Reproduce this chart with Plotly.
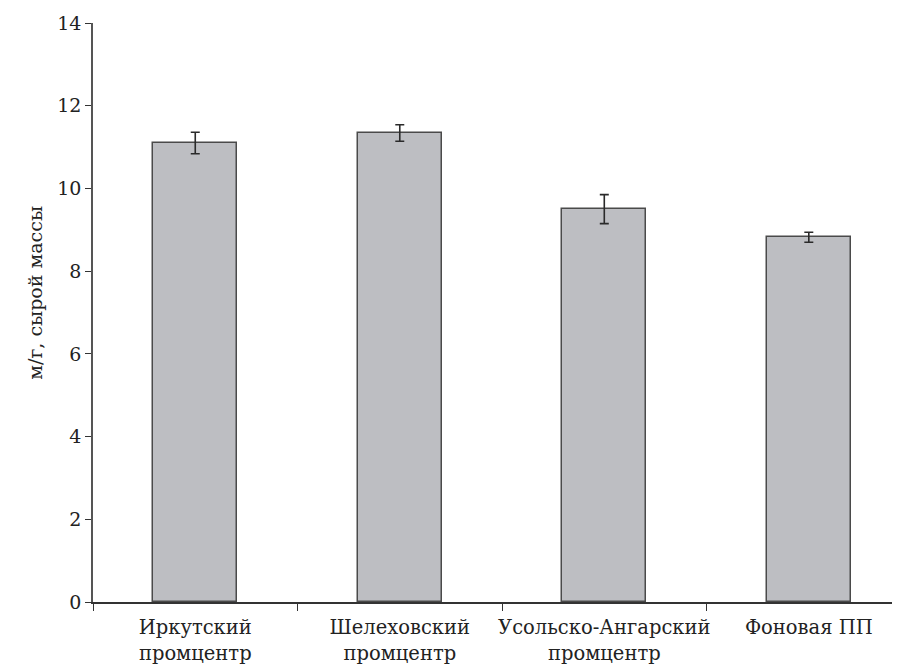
import plotly.graph_objects as go

categories = ["Иркутский<br>промцентр", "Шелеховский<br>промцентр",
              "Усольско-Ангарский<br>промцентр", "Фоновая ПП"]
values = [11.10, 11.34, 9.50, 8.82]
errors = [0.26, 0.20, 0.35, 0.12]
y_ticks = [0, 2, 4, 6, 8, 10, 12, 14]
y_title = "м/г, сырой массы"

FONT = "DejaVu Serif"

fig = go.Figure(go.Bar(
    x=categories, y=values,
    width=0.41,
    marker=dict(color="#bdbec2", line=dict(color="#4a4a4a", width=1.5)),
    error_y=dict(type="data", array=errors, visible=True,
                 color="#2a2a2a", thickness=1.6, width=4.5),
))

fig.update_layout(
    width=900, height=666,
    margin=dict(l=85, r=0, t=15, b=72),
    plot_bgcolor="white", paper_bgcolor="white",
    font=dict(family=FONT, size=18, color="#222"),
    showlegend=False,
    bargap=0,
    annotations=[dict(
        text=y_title, xref="paper", yref="paper", x=-0.0712, y=0.534,
        xanchor="center", yanchor="middle", textangle=-90, showarrow=False,
        font=dict(family=FONT, size=19, color="#222"),
    )],
)
fig.update_xaxes(
    type="category", range=[-0.5, 3.485], automargin=False, tickangle=0,
    tickson="boundaries", ticks="outside", ticklen=7, tickwidth=1.3, tickcolor="#333",
    showline=True, linecolor="#333", linewidth=1.5, showgrid=False,
    ticklabelstandoff=7,
    tickfont=dict(family=FONT, size=19.5, color="#222"),
)
fig.update_yaxes(
    range=[0, 14], tickvals=y_ticks, ticks="outside", ticklen=6, tickwidth=1.3,
    tickcolor="#333", showline=True, linecolor="#555", linewidth=1.5,
    showgrid=False, zeroline=False, automargin=False,
    tickfont=dict(family=FONT, size=19, color="#222"),
)

fig.write_html("out.html")
